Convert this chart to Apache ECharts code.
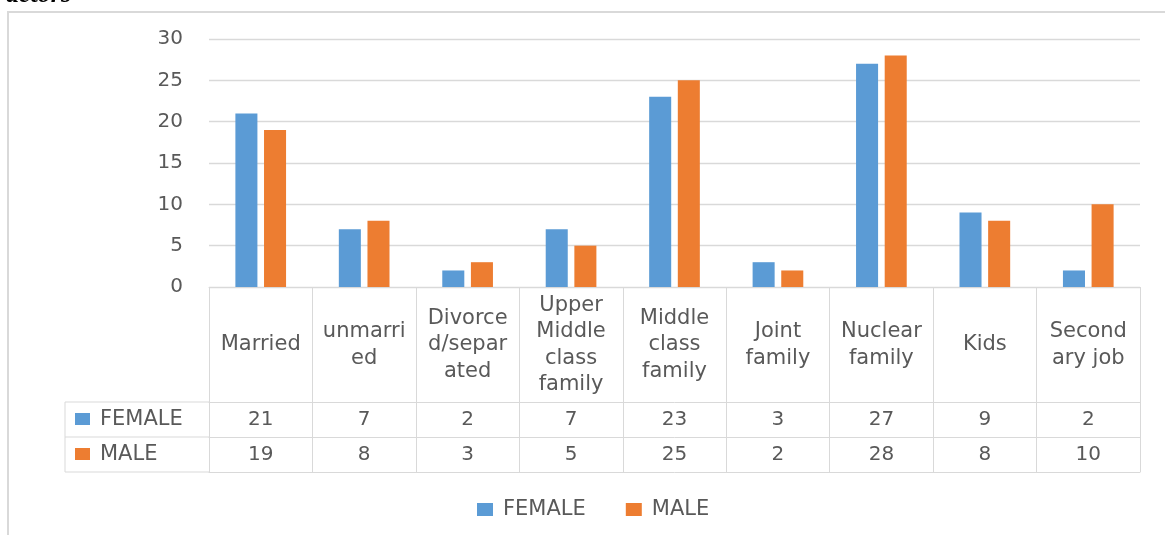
<!DOCTYPE html>
<html>
<head>
<meta charset="utf-8">
<title>Factors by gender</title>
<script src="https://cdn.jsdelivr.net/npm/echarts@6/dist/echarts.min.js"></script>
<style>
  html, body { margin: 0; padding: 0; background: #fff; }
  #chart { width: 1165px; height: 535px; }
</style>
</head>
<body>
<div id="chart"></div>
<script>
// Category header labels (wrapped the way the data table shows them)
const categories = [
  'Married',
  'unmarri\ned',
  'Divorce\nd/separ\nated',
  'Upper\nMiddle\nclass\nfamily',
  'Middle\nclass\nfamily',
  'Joint\nfamily',
  'Nuclear\nfamily',
  'Kids',
  'Second\nary job'
];
const seriesNames = ['FEMALE', 'MALE'];
const female = [21, 7, 2, 7, 23, 3, 27, 9, 2];
const male = [19, 8, 3, 5, 25, 2, 28, 8, 10];
const yMin = 0, yMax = 30, yStep = 5;

const colors = ['#5B9BD5', '#ED7D31'];
const textColor = '#595959';
const lineColor = '#d9d9d9';
const font = 'DejaVu Sans';

const chart = echarts.init(document.getElementById('chart'), null, { renderer: 'canvas' });

// Shared look for the table rows built from extra category axes
function rowAxis(offset, values, tickLen) {
  return {
    type: 'category',
    data: categories,
    position: 'bottom',
    offset: offset,
    boundaryGap: true,
    axisLine: { show: true, lineStyle: { color: lineColor, width: 1 } },
    axisTick: { show: tickLen > 0, length: tickLen, lineStyle: { color: lineColor, width: 1 } },
    axisLabel: {
      show: !!values,
      interval: 0,
      margin: 17.5,
      verticalAlign: 'middle',
      color: textColor,
      fontFamily: font,
      fontSize: 20,
      formatter: (v, i) => values ? String(values[i]) : ''
    },
    splitLine: { show: false }
  };
}

const option = {
  animation: false,
  color: colors,
  textStyle: { fontFamily: font },
  grid: { left: 209, right: 25, top: 39, bottom: 248, containLabel: false },
  legend: {
    data: seriesNames,
    left: 472,
    top: 494,
    itemWidth: 16,
    itemHeight: 13,
    itemGap: 40,
    icon: 'rect',
    textStyle: { color: textColor, fontFamily: font, fontSize: 21, padding: [0, 0, 0, 5] }
  },
  xAxis: [
    {
      type: 'category',
      data: categories,
      boundaryGap: true,
      axisLine: { show: true, lineStyle: { color: lineColor, width: 1 } },
      axisTick: { show: true, length: 115, lineStyle: { color: lineColor, width: 1 } },
      axisLabel: {
        interval: 0,
        margin: 58,
        verticalAlign: 'middle',
        color: textColor,
        fontFamily: font,
        fontSize: 21,
        lineHeight: 26.5
      }
    },
    rowAxis(115, female, 35),
    rowAxis(150, male, 35),
    rowAxis(185, null, 0)
  ],
  yAxis: {
    type: 'value',
    min: yMin,
    max: yMax,
    interval: yStep,
    axisLine: { show: false },
    axisTick: { show: false },
    axisLabel: { color: textColor, fontFamily: font, fontSize: 20, margin: 26 },
    splitLine: { lineStyle: { color: lineColor, width: 1.3 } }
  },
  series: [
    {
      name: seriesNames[0],
      type: 'bar',
      xAxisIndex: 0,
      data: female,
      barWidth: '21.3%',
      barGap: '30%',
      itemStyle: { color: colors[0] }
    },
    {
      name: seriesNames[1],
      type: 'bar',
      xAxisIndex: 0,
      data: male,
      barWidth: '21.3%',
      barGap: '30%',
      itemStyle: { color: colors[1] }
    }
  ],
  graphic: [
    // outer chart frame
    {
      type: 'rect', z: -10, silent: true,
      shape: { x: 8, y: 12, width: 1200, height: 600 },
      style: { fill: 'none', stroke: lineColor, lineWidth: 2 }
    },
    // heading line above the frame
    {
      type: 'text', silent: true, x: 6, y: -5,
      style: {
        text: 'actors', fill: '#000',
        fontSize: 26, fontFamily: 'Liberation Serif',
        fontWeight: 'bold', fontStyle: 'italic',
        verticalAlign: 'middle'
      }
    },
    // row-header column of the data table
    { type: 'line', silent: true, shape: { x1: 65, y1: 402, x2: 209, y2: 402 }, style: { stroke: lineColor, lineWidth: 1 } },
    { type: 'line', silent: true, shape: { x1: 65, y1: 437, x2: 209, y2: 437 }, style: { stroke: lineColor, lineWidth: 1 } },
    { type: 'line', silent: true, shape: { x1: 65, y1: 472, x2: 209, y2: 472 }, style: { stroke: lineColor, lineWidth: 1 } },
    { type: 'line', silent: true, shape: { x1: 65, y1: 402, x2: 65, y2: 472 }, style: { stroke: lineColor, lineWidth: 1 } },
    { type: 'rect', silent: true, shape: { x: 75, y: 413, width: 15, height: 12 }, style: { fill: colors[0] } },
    { type: 'rect', silent: true, shape: { x: 75, y: 448, width: 15, height: 12 }, style: { fill: colors[1] } },
    {
      type: 'text', silent: true, x: 100, y: 419.5,
      style: { text: seriesNames[0], fill: textColor, fontSize: 21, fontFamily: font, verticalAlign: 'middle' }
    },
    {
      type: 'text', silent: true, x: 100, y: 454.5,
      style: { text: seriesNames[1], fill: textColor, fontSize: 21, fontFamily: font, verticalAlign: 'middle' }
    }
  ]
};

chart.setOption(option);
</script>
</body>
</html>
